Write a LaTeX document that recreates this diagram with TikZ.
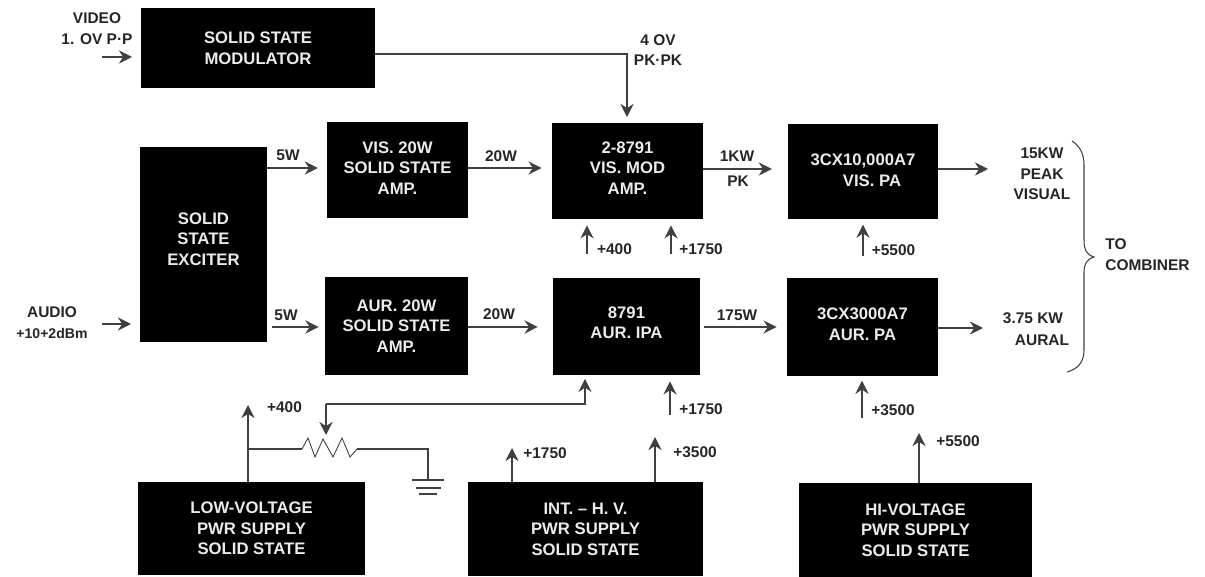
\documentclass[tikz,border=0pt]{standalone}
\usepackage{fontspec}
\setmainfont{Liberation Sans}
\usetikzlibrary{arrows.meta}
\newcommand{\lift}[1]{\rule[-#1pt]{0pt}{0pt}}
\tikzset{
    blackbox/.style={rectangle, fill=black, text=white!92!black, font=\bfseries\fontsize{9.5}{11.7}\selectfont, align=center, inner sep=0pt},
    lbl/.style={font=\bfseries\fontsize{8.8}{11.8}\selectfont, align=center, inner sep=0pt, text=black!85},
    wire/.style={draw=black!75, line width=0.8pt},
    sig/.style={wire, -{Stealth[length=7.5pt, width=7.5pt, inset=2.5pt]}},
}

\begin{document}
\begin{tikzpicture}[x=0.02cm, y=-0.02cm]
    \useasboundingbox[fill=white] (0,0) rectangle (1205,577);

    % Draw nodes
    \node[blackbox, minimum width=4.68cm, minimum height=1.6cm] (mod) at (258,48) {SOLID STATE\\MODULATOR};
    \node[blackbox, minimum width=2.54cm, minimum height=3.9cm] (exciter) at (203.5,244.5) {SOLID\\STATE\\EXCITER\lift{6.2}};
    \node[blackbox, minimum width=2.82cm, minimum height=1.92cm] (visamp) at (397.5,170) {VIS. 20W\\SOLID STATE\\AMP.\lift{2.3}};
    \node[blackbox, minimum width=2.86cm, minimum height=1.96cm] (auramp) at (396.5,326) {AUR. 20W\\SOLID STATE\\AMP.};
    \node[blackbox, minimum width=3.02cm, minimum height=1.92cm] (vismod) at (627.5,171) {2-8791\\VIS. MOD\\AMP.\lift{3.4}};
    \node[blackbox, minimum width=2.94cm, minimum height=1.94cm] (ipa) at (626.5,326.5) {8791\\AUR. IPA\lift{4.5}};
    \node[blackbox, minimum width=3cm, minimum height=1.9cm] (vispa) at (863,171.5) {3CX10,000A7\\\hspace*{0.36cm}VIS. PA\lift{1.2}};
    \node[blackbox, minimum width=3.02cm, minimum height=1.96cm] (aurpa) at (862.5,327) {3CX3000A7\\AUR. PA\lift{3.4}};
    \node[blackbox, minimum width=4.54cm, minimum height=1.86cm] (lowv) at (251.5,528.5) {LOW-VOLTAGE\\PWR SUPPLY\\SOLID STATE};
    \node[blackbox, minimum width=4.7cm, minimum height=1.88cm] (intv) at (585.5,529) {INT. -- H. V.\\PWR SUPPLY\\SOLID STATE};
    \node[blackbox, minimum width=4.66cm, minimum height=1.88cm] (hiv) at (915.5,530) {HI-VOLTAGE\\PWR SUPPLY\\SOLID STATE};

    % Free ends
    \coordinate (videoin) at (102,57);
    \coordinate (videoto) at (132,57);
    \coordinate (audioin) at (102,324);
    \coordinate (audioto) at (131,324);
    \coordinate (modto) at (627,123);
    \coordinate (visto) at (988,169);
    \coordinate (aurto) at (983,328);
    \coordinate (a400) at (587,254);
    \coordinate (a1750) at (671,254);
    \coordinate (a5500) at (863,256);
    \coordinate (b1750) at (670,415);
    \coordinate (b3500) at (862,418);
    \coordinate (wiper) at (326,435);
    \coordinate (ipafeed) at (585,404);
    \coordinate (lv400) at (248,405);
    \coordinate (rleft) at (302,449);
    \coordinate (rright) at (357,449);
    \coordinate (gnd) at (428,480);
    \coordinate (i1750) at (512,448);
    \coordinate (i3500) at (655,437);
    \coordinate (h5500) at (919,433);

    % Draw connections
    \draw[sig] (videoin) -- (videoto);
    \draw[sig] (audioin) -- (audioto);
    \draw[sig, shorten >=3.4pt] ([yshift=-0.12cm]mod.east) -| (modto);
    \draw[sig, shorten >=5pt] (exciter.east |- 0,168) -- (visamp.west |- 0,168);
    \draw[sig, shorten <=2.8pt, shorten >=3.5pt] (exciter.east |- 0,327) -- (auramp.west |- 0,327);
    \draw[sig, shorten >=5.7pt] (visamp.east |- 0,168) -- (vismod.west |- 0,168);
    \draw[sig, shorten >=8.5pt] (auramp.east |- 0,327) -- (ipa.west |- 0,327);
    \draw[sig, shorten >=9pt] (vismod.east |- 0,169) -- (vispa.west |- 0,169);
    \draw[sig, shorten <=2.3pt, shorten >=5.7pt] (ipa.east |- 0,327) -- (aurpa.west |- 0,327);
    \draw[sig] (vispa.east |- visto) -- (visto);
    \draw[sig] (aurpa.east |- aurto) -- (aurto);
    \draw[sig, shorten >=3.4pt] (a400) -- (a400 |- vismod.south);
    \draw[sig, shorten >=3.4pt] (a1750) -- (a1750 |- vismod.south);
    \draw[sig, shorten >=3pt] (a5500) -- (a5500 |- vispa.south);
    \draw[sig, shorten >=3.4pt] (b1750) -- (b1750 |- ipa.south);
    \draw[sig, shorten >=2.5pt] (b3500) -- (b3500 |- aurpa.south);
    \draw[sig, shorten >=2pt] (wiper |- ipafeed) -- (ipafeed) -- (ipafeed |- ipa.south);
    \draw[sig] (wiper |- ipafeed) -- (wiper);
    \draw[sig] (lowv.north -| lv400) -- (lv400);
    \draw[sig] (intv.north -| i1750) -- (i1750);
    \draw[sig] (intv.north -| i3500) -- (i3500);
    \draw[sig] (hiv.north -| h5500) -- (h5500);

    % Resistor and ground
    \draw[wire] (lv400 |- rleft) -- (rleft);
    \draw[wire, line width=0.5pt] (rleft) -- (308,438) -- (315,457) -- (323,439) -- (333,457) -- (342,438) -- (350,457) -- (rright);
    \draw[wire] (rright) -- (rright -| gnd) -- (gnd);
    \draw[wire] ([xshift=-0.32cm]gnd) -- ([xshift=0.32cm]gnd);
    \draw[wire, line width=0.6pt] (416,488) -- (441,488);
    \draw[wire, line width=0.6pt] (419,494) -- (437,494);

    % Brace
    \draw[wire, line width=0.6pt] (1072,141) .. controls (1080,146) and (1084,154) .. (1084,165) -- (1084,240) .. controls (1084,250) and (1087,255) .. (1094,257) .. controls (1087,259) and (1084,264) .. (1084,272) -- (1084,350) .. controls (1084,362) and (1078,369) .. (1067,372);

    % Labels
    \node[lbl] (videolbl) at (97,28.5) {VIDEO\\1. OV P·P};
    \node[lbl] (audiolbl) at (52,322.5) {AUDIO\\{\fontsize{8}{11.8}\selectfont +10+2dBm}};
    \node[lbl] (pklbl) at (658,50) {4 OV\\PK·PK};
    \node[lbl] (w5a) at (288,155) {5W};
    \node[lbl] (w5b) at (286,315) {5W};
    \node[lbl] (w20a) at (501,156) {20W};
    \node[lbl] (w20b) at (499,314) {20W};
    \node[lbl] (w1k) at (737,156) {1KW};
    \node[lbl] (wpk) at (738,181) {PK};
    \node[lbl] (w175) at (737,315) {175W};
    \node[lbl] (p400) at (614.5,249) {+400};
    \node[lbl] (p1750) at (701,249) {+1750};
    \node[lbl] (p5500) at (893.5,250) {+5500};
    \node[lbl] (q1750) at (701,409) {+1750};
    \node[lbl] (q3500) at (893,410) {+3500};
    \node[lbl] (r400) at (284.5,407) {+400};
    \node[lbl] (r1750) at (545,453) {+1750};
    \node[lbl] (r3500) at (695,452) {+3500};
    \node[lbl] (r5500) at (958,441) {+5500};
    \node[lbl] (vislbl) at (1042,174) {15KW\\PEAK\\VISUAL};
    \node[lbl] (aurtop) at (1033,318) {3.75 KW};
    \node[lbl] (aurbot) at (1042,340) {AURAL};
    \node[lbl, align=left, anchor=west] (tolbl) at (1105,255) {TO\\COMBINER};
\end{tikzpicture}
\end{document}
